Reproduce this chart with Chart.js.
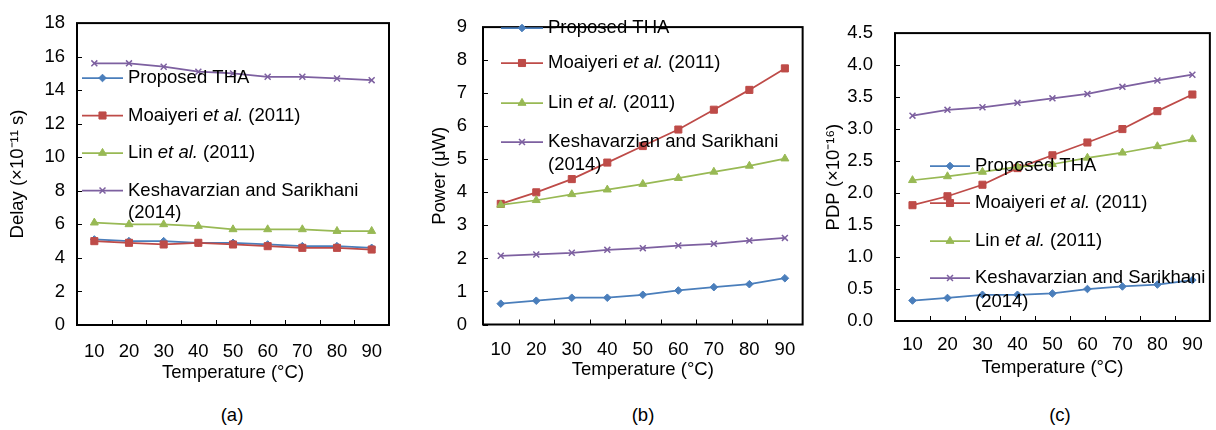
<!DOCTYPE html>
<html>
<head>
<meta charset="utf-8">
<script src="https://cdn.jsdelivr.net/npm/chart.js@4.4.1/dist/chart.umd.min.js"></script>
<style>
    body { margin: 0; background: #fff; width: 1216px; height: 430px; position: relative; overflow: hidden;
           font-family: "Liberation Sans", Arial, sans-serif; }
    canvas { position: absolute; top: 0; }
    .cap { position: absolute; top: 404px; font-size: 18.5px; color: #000; transform: translateX(-50%); }
</style>
</head>
<body>
<canvas id="delay-chart" width="400" height="395" style="left:0"></canvas>
<canvas id="power-chart" width="410" height="395" style="left:400px"></canvas>
<canvas id="pdp-chart" width="406" height="395" style="left:810px"></canvas>
<div class="cap" style="left:232px">(a)</div>
<div class="cap" style="left:643px">(b)</div>
<div class="cap" style="left:1060px">(c)</div>
<script>
    const temperatures = ['10', '20', '30', '40', '50', '60', '70', '80', '90'];

    // (a) Delay (x10^-11 s)
    const delayTHA = [5.1, 5.0, 5.0, 4.9, 4.9, 4.8, 4.7, 4.7, 4.6];
    const delayMoaiyeri = [5.0, 4.9, 4.8, 4.9, 4.8, 4.7, 4.6, 4.6, 4.5];
    const delayLin = [6.1, 6.0, 6.0, 5.9, 5.7, 5.7, 5.7, 5.6, 5.6];
    const delayKesh = [15.6, 15.6, 15.4, 15.1, 15.0, 14.8, 14.8, 14.7, 14.6];

    // (b) Power (uW)
    const powerTHA = [0.63, 0.72, 0.81, 0.81, 0.90, 1.03, 1.13, 1.22, 1.40];
    const powerMoaiyeri = [3.65, 4.0, 4.4, 4.9, 5.4, 5.9, 6.5, 7.1, 7.75];
    const powerLin = [3.62, 3.76, 3.94, 4.08, 4.25, 4.43, 4.62, 4.8, 5.02];
    const powerKesh = [2.08, 2.12, 2.17, 2.26, 2.31, 2.39, 2.44, 2.54, 2.62];

    // (c) PDP (x10^-16)
    const pdpTHA = [0.32, 0.36, 0.41, 0.41, 0.43, 0.50, 0.54, 0.57, 0.64];
    const pdpMoaiyeri = [1.81, 1.95, 2.13, 2.39, 2.59, 2.79, 3.0, 3.28, 3.54];
    const pdpLin = [2.20, 2.26, 2.33, 2.41, 2.45, 2.55, 2.63, 2.73, 2.84];
    const pdpKesh = [3.21, 3.30, 3.34, 3.41, 3.48, 3.55, 3.66, 3.76, 3.85];

    // legend text: lines of [text, italic] pieces
    const seriesNames = [
        [[['Proposed THA', false]]],
        [[['Moaiyeri ', false], ['et al.', true], [' (2011)', false]]],
        [[['Lin ', false], ['et al.', true], [' (2011)', false]]],
        [[['Keshavarzian and Sarikhani', false]], [['(2014)', false]]]
    ];

    const FONT = '"Liberation Sans", Arial, sans-serif';
    const SIZE = 18.5;
    Chart.defaults.font.family = FONT;
    Chart.defaults.font.size = SIZE;
    Chart.defaults.color = '#000';

    const colors = ['#4A7EBB', '#BE4B48', '#98B954', '#7D60A0'];
    const styles = ['rectRot', 'rect', 'triangle', 'crossRot'];
    const radii = [3.8, 5, 4.6, 4.2];

    function makeDatasets(values) {
        return values.map((data, i) => ({
            label: seriesNames[i].map(line => line.map(p => p[0]).join('')).join(' '),
            data: data,
            borderColor: colors[i],
            backgroundColor: colors[i],
            pointBackgroundColor: colors[i],
            pointBorderColor: colors[i],
            pointStyle: styles[i],
            pointRadius: radii[i],
            pointBorderWidth: styles[i] === 'crossRot' ? 1.5 : 1,
            borderWidth: 1.75,
            order: values.length - i
        }));
    }

    // frame round the plot + small inward tick marks
    const framePlugin = {
        id: 'frame',
        beforeDatasetsDraw(chart) {
            const { ctx, chartArea: a, scales: { x, y } } = chart;
            ctx.save();
            ctx.strokeStyle = '#000';
            ctx.lineWidth = 1;
            ctx.beginPath();
            y.ticks.forEach((t, i) => {
                const py = Math.round(y.getPixelForTick(i)) + 0.5;
                ctx.moveTo(a.left, py);
                ctx.lineTo(a.left + 5, py);
            });
            for (let i = 1; i < x.ticks.length; i++) {
                const px = Math.round((x.getPixelForTick(i - 1) + x.getPixelForTick(i)) / 2) + 0.5;
                ctx.moveTo(px, a.bottom);
                ctx.lineTo(px, a.bottom - 5);
            }
            ctx.stroke();
            ctx.lineWidth = 2;
            ctx.strokeRect(a.left, a.top, a.width, a.height);
            ctx.restore();
        }
    };

    // legend drawn inside the plot, no box
    const legendPlugin = {
        id: 'inlineLegend',
        afterDatasetsDraw(chart, args, opts) {
            const ctx = chart.ctx;
            chart.data.datasets.forEach((ds, i) => {
                const y = opts.rows[i];
                ctx.save();
                ctx.strokeStyle = ds.borderColor;
                ctx.lineWidth = ds.borderWidth;
                ctx.beginPath();
                ctx.moveTo(opts.lineStart, y);
                ctx.lineTo(opts.lineEnd, y);
                ctx.stroke();
                ctx.fillStyle = ds.pointBackgroundColor;
                ctx.strokeStyle = ds.pointBorderColor;
                ctx.lineWidth = ds.pointBorderWidth;
                Chart.helpers.drawPoint(ctx, {
                    pointStyle: ds.pointStyle, radius: ds.pointRadius,
                    borderWidth: ds.pointBorderWidth, rotation: 0
                }, (opts.lineStart + opts.lineEnd) / 2, y);

                ctx.fillStyle = '#000';
                ctx.textBaseline = 'middle';
                ctx.textAlign = 'left';
                seriesNames[i].forEach((line, li) => {
                    let x = opts.textX;
                    line.forEach(([text, italic]) => {
                        ctx.font = (italic ? 'italic ' : '') + SIZE + 'px ' + FONT;
                        ctx.fillText(text, x, y + li * opts.wrap);
                        x += ctx.measureText(text).width;
                    });
                });
                ctx.restore();
            });
        }
    };

    function makeChart(id, datasets, cfg) {
        const yTicks = { stepSize: cfg.step, padding: cfg.yTickPad };
        if (cfg.fmt) yTicks.callback = cfg.fmt;
        return new Chart(document.getElementById(id), {
            type: 'line',
            data: { labels: temperatures, datasets: datasets },
            options: {
                responsive: false,
                animation: false,
                layout: { padding: { top: cfg.top, right: cfg.right, left: 0, bottom: 0 } },
                plugins: {
                    legend: { display: false },
                    tooltip: { enabled: false },
                    inlineLegend: cfg.legend
                },
                scales: {
                    x: {
                        offset: true,
                        grid: { display: false, drawTicks: false },
                        border: { display: false },
                        ticks: { padding: cfg.xTickPad, maxRotation: 0, autoSkip: false },
                        title: { display: true, text: 'Temperature (°C)', padding: { top: 0, bottom: cfg.xTitlePad } },
                        afterFit: s => { s.height = cfg.xHeight; }
                    },
                    y: {
                        min: 0,
                        max: cfg.max,
                        grid: { display: false, drawTicks: false },
                        border: { display: false },
                        ticks: yTicks,
                        title: { display: true, text: cfg.yTitle, padding: { top: cfg.yTitlePad, bottom: 0 } },
                        afterFit: s => { s.width = cfg.yWidth; }
                    }
                }
            },
            plugins: [framePlugin, legendPlugin]
        });
    }

    makeChart('delay-chart', makeDatasets([delayTHA, delayMoaiyeri, delayLin, delayKesh]), {
        max: 18, step: 2, yTitle: 'Delay (×10⁻¹¹ s)',
        top: 14, right: 11, yWidth: 77, xHeight: 70,
        xTickPad: 16, xTitlePad: 11, yTickPad: 12, yTitlePad: 7,
        legend: { lineStart: 82, lineEnd: 123, textX: 128, rows: [78, 115.5, 153, 190.5], wrap: 22 }
    });

    makeChart('power-chart', makeDatasets([powerTHA, powerMoaiyeri, powerLin, powerKesh]), {
        max: 9, step: 1, yTitle: 'Power (μW)',
        top: 14.5, right: 5, yWidth: 83, xHeight: 70.5,
        xTickPad: 14.5, xTitlePad: 14, yTickPad: 16, yTitlePad: 29,
        legend: { lineStart: 101, lineEnd: 143, textX: 148, rows: [28, 63, 103, 142], wrap: 23 }
    });

    makeChart('pdp-chart', makeDatasets([pdpTHA, pdpMoaiyeri, pdpLin, pdpKesh]), {
        max: 4.5, step: 0.5, yTitle: 'PDP (×10⁻¹⁶)', fmt: v => v.toFixed(1),
        top: 14.5, right: 3, yWidth: 85, xHeight: 74,
        xTickPad: 13, xTitlePad: 16, yTickPad: 22, yTitlePad: 13,
        legend: { lineStart: 120, lineEnd: 160, textX: 165, rows: [166, 203, 241, 278], wrap: 24 }
    });
</script>
</body>
</html>
